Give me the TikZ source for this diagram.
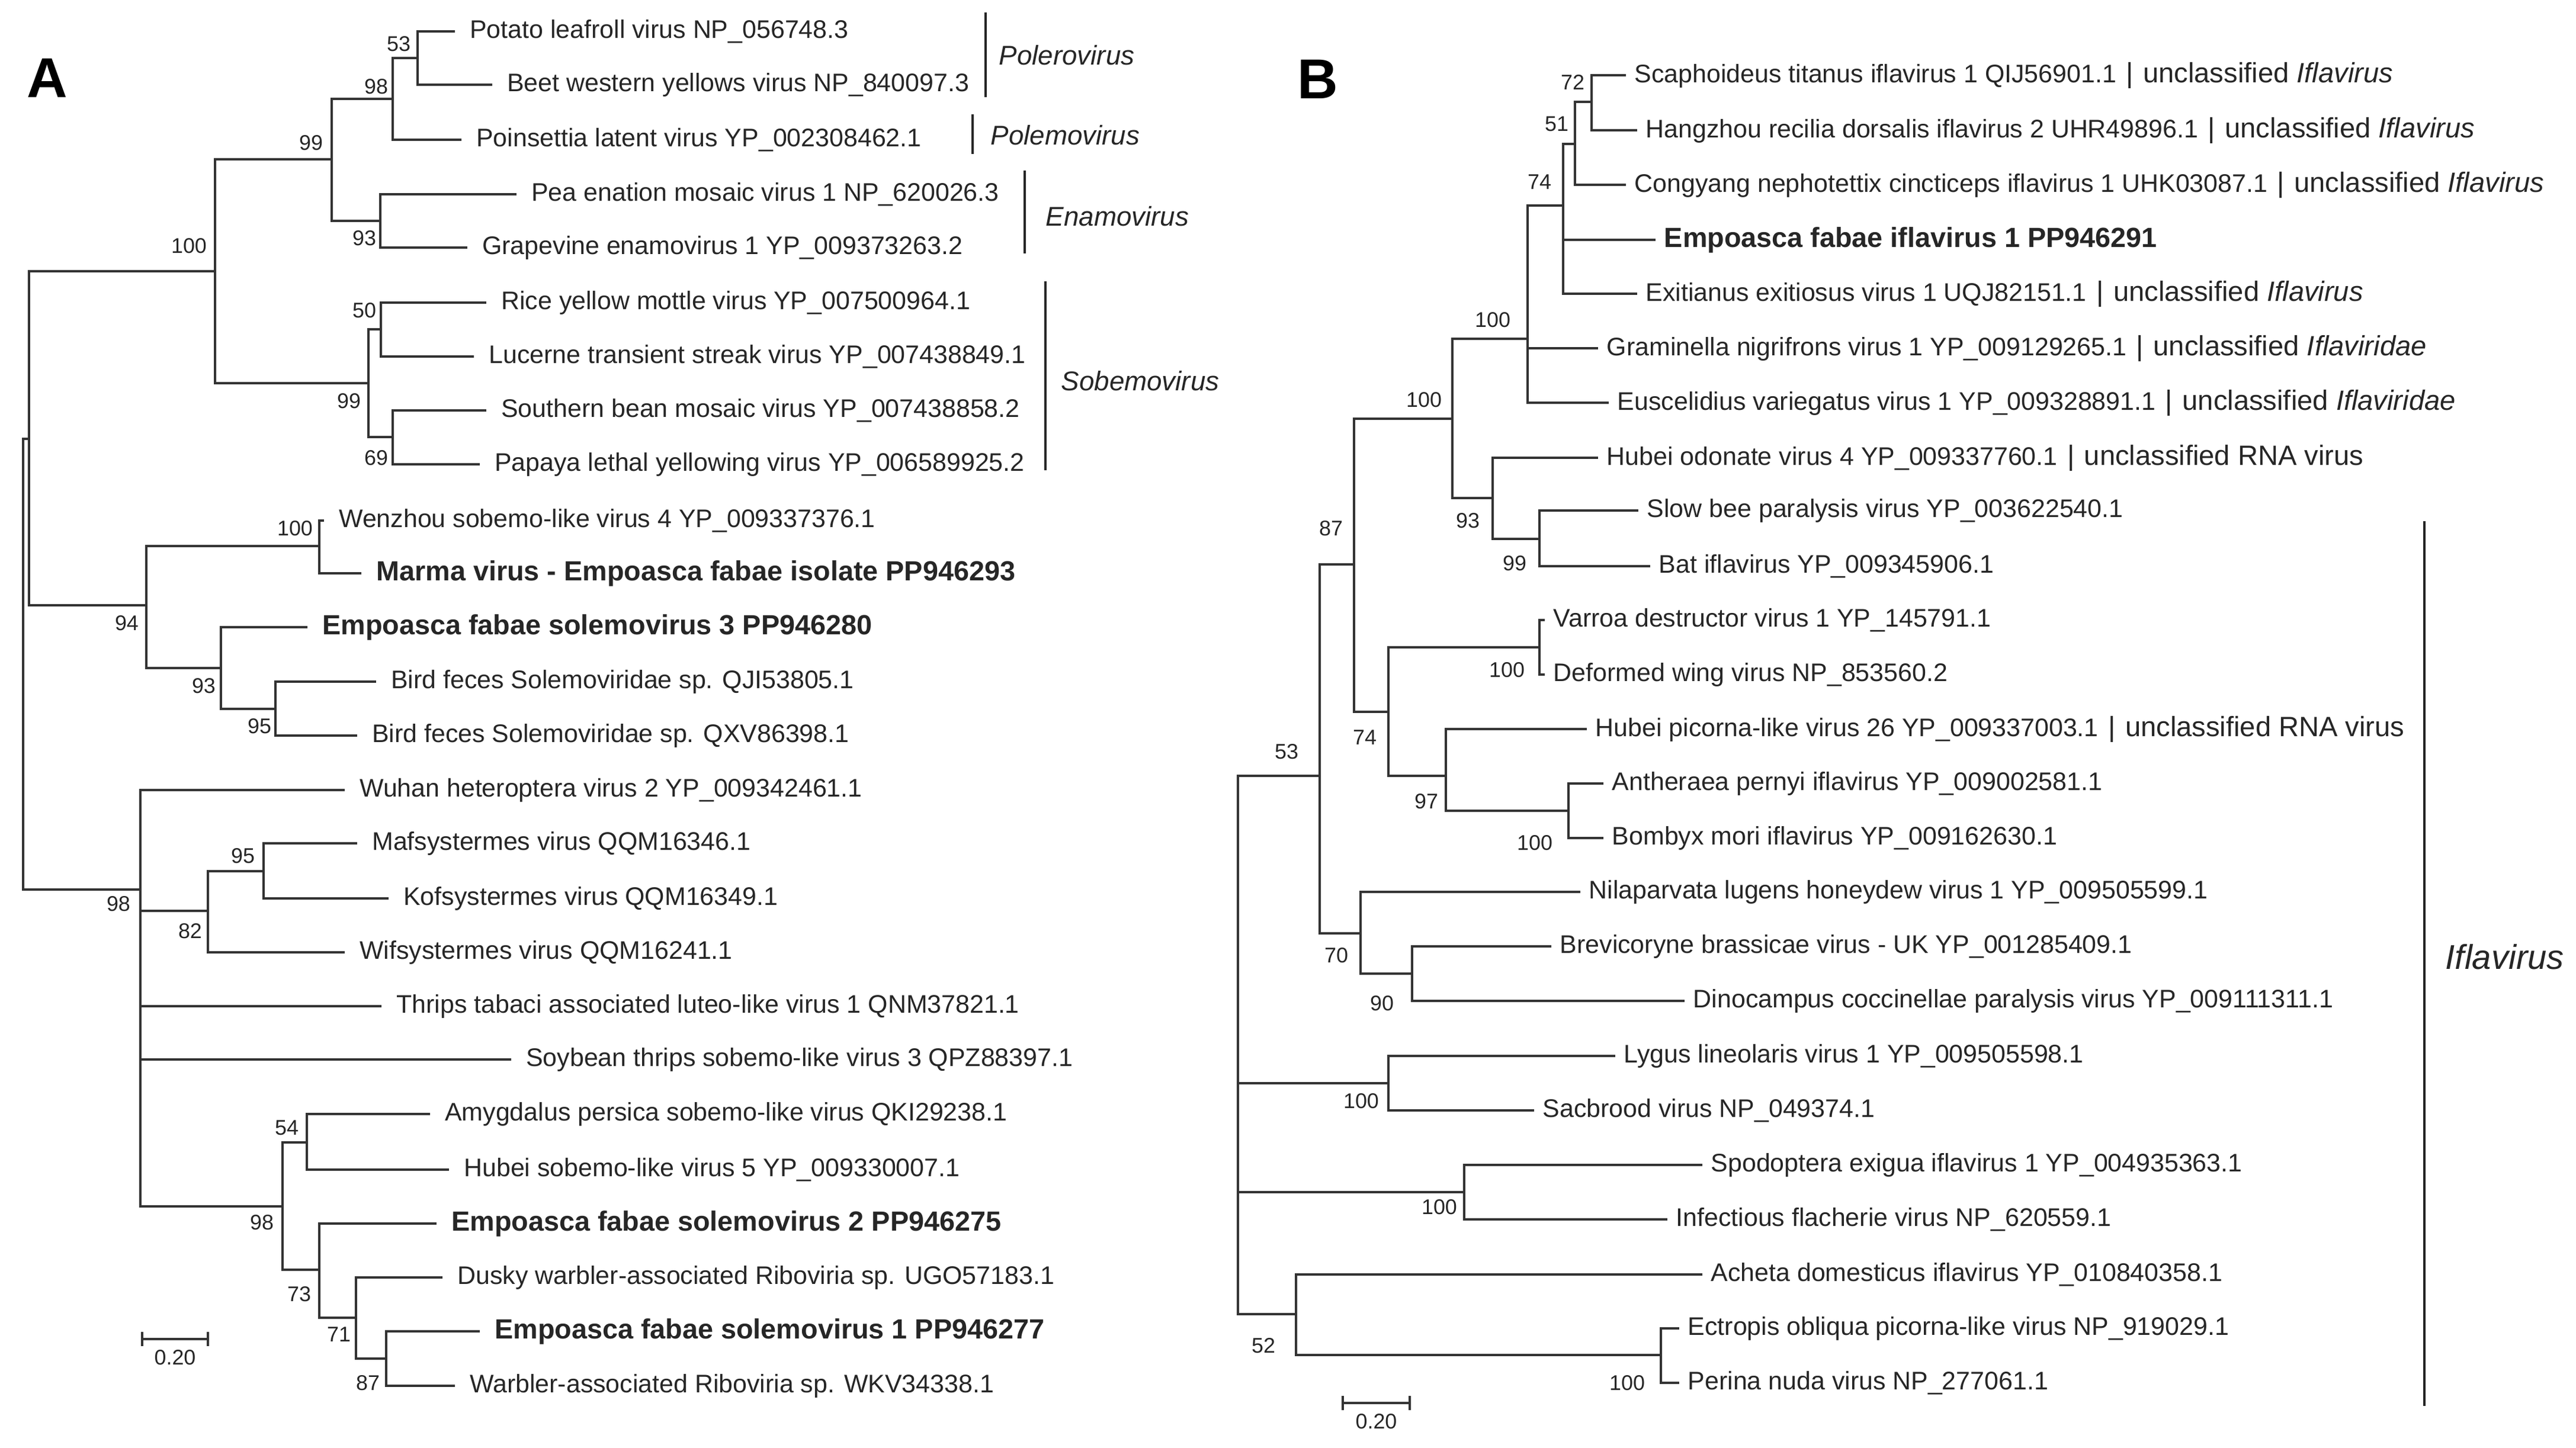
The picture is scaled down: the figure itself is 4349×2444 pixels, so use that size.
\documentclass[tikz,border=0pt]{standalone}
\usepackage{fontspec}
\setmainfont{Liberation Sans}
\usepackage{tikz}
\usetikzlibrary{positioning,arrows.meta}
\newcommand{\uncl}[1]{{\fontsize{13.4}{15}\selectfont\hspace{0.35em}|\hspace{0.35em}unclassified #1}}

\begin{document}
\begin{tikzpicture}[x=0.01cm,y=-0.01cm,
		br/.style={draw=black!80,line width=1.1pt},
		bar/.style={draw=black!85,line width=1.3pt},
		leaf/.style={anchor=west,inner xsep=7pt,inner ysep=1pt,text=black!85,font=\fontsize{12.2}{14}\selectfont},
		leafbf/.style={leaf,font=\fontsize{13.3}{15}\selectfont\bfseries},
		bs/.style={inner sep=0pt,text=black!85,font=\fontsize{10.2}{12}\selectfont},
		clade/.style={anchor=west,inner sep=0pt,text=black!85,font=\fontsize{13}{15}\selectfont\itshape},
		panel/.style={inner sep=0pt,font=\fontsize{27}{30}\selectfont\bfseries}]
		\useasboundingbox (0,0) rectangle (4349,2444);
		
		% panel A
		\node[panel] (pA) at (80,132) {A};
		
		\coordinate (aR) at (39,1121);
		\coordinate (a1) at (49,741);
		\coordinate (a2) at (363,458);
		\coordinate (a3) at (560,269);
		\coordinate (a4) at (663,167);
		\coordinate (a5) at (705,98);
		\coordinate (a6) at (642,373);
		\coordinate (a7) at (622,647);
		\coordinate (a8) at (643,556);
		\coordinate (a9) at (663,738);
		\coordinate (a10) at (247,1022);
		\coordinate (a11) at (539,922);
		\coordinate (a12) at (373,1128);
		\coordinate (a13) at (465,1197);
		\coordinate (a14) at (237,1502);
		\coordinate (a15) at (351,1538);
		\coordinate (a16) at (445,1471);
		\coordinate (a17) at (477,2037);
		\coordinate (a18) at (518,1929);
		\coordinate (a19) at (539,2144);
		\coordinate (a20) at (601,2225);
		\coordinate (a21) at (652,2294);
		
		\node[leaf] (potato) at (768,53) {Potato leafroll virus NP\_056748.3};
		\node[leaf] (beet) at (831,143) {Beet western yellows virus NP\_840097.3};
		\node[leaf] (poins) at (779,236) {Poinsettia latent virus YP\_002308462.1};
		\node[leaf] (pea) at (872,328) {Pea enation mosaic virus 1 NP\_620026.3};
		\node[leaf] (grape) at (789,418) {Grapevine enamovirus 1 YP\_009373263.2};
		\node[leaf] (rice) at (821,511) {Rice yellow mottle virus YP\_007500964.1};
		\node[leaf] (lucerne) at (800,602) {Lucerne transient streak virus YP\_007438849.1};
		\node[leaf] (sbean) at (821,693) {Southern bean mosaic virus YP\_007438858.2};
		\node[leaf] (papaya) at (810,784) {Papaya lethal yellowing virus YP\_006589925.2};
		\node[leaf] (wenzhou) at (547,879) {Wenzhou sobemo-like virus 4 YP\_009337376.1};
		\node[leafbf] (marma) at (610,968) {Marma virus - Empoasca fabae isolate PP946293};
		\node[leafbf] (efs3) at (519,1059) {Empoasca fabae solemovirus 3 PP946280};
		\node[leaf] (birdA) at (635,1151) {Bird feces Solemoviridae sp. QJI53805.1};
		\node[leaf] (birdB) at (603,1242) {Bird feces Solemoviridae sp. QXV86398.1};
		\node[leaf] (wuhan) at (582,1334) {Wuhan heteroptera virus 2 YP\_009342461.1};
		\node[leaf] (maf) at (603,1424) {Mafsystermes virus QQM16346.1};
		\node[leaf] (kof) at (656,1517) {Kofsystermes virus QQM16349.1};
		\node[leaf] (wif) at (582,1608) {Wifsystermes virus QQM16241.1};
		\node[leaf] (thrips) at (644,1699) {Thrips tabaci associated luteo-like virus 1 QNM37821.1};
		\node[leaf] (soybean) at (863,1789) {Soybean thrips sobemo-like virus 3 QPZ88397.1};
		\node[leaf] (amyg) at (726,1881) {Amygdalus persica sobemo-like virus QKI29238.1};
		\node[leaf] (hubeisob) at (758,1975) {Hubei sobemo-like virus 5 YP\_009330007.1};
		\node[leafbf] (efs2) at (737,2066) {Empoasca fabae solemovirus 2 PP946275};
		\node[leaf] (dusky) at (747,2157) {Dusky warbler-associated Riboviria sp. UGO57183.1};
		\node[leafbf] (efs1) at (810,2248) {Empoasca fabae solemovirus 1 PP946277};
		\node[leaf] (warbler) at (768,2340) {Warbler-associated Riboviria sp. WKV34338.1};
		
		\path[br] (aR) |- (a1) (aR) |- (a14);
		\path[br] (a1) |- (a2) (a1) |- (a10);
		\path[br] (a2) |- (a3) (a2) |- (a7);
		\path[br] (a3) |- (a4) (a3) |- (a6);
		\path[br] (a4) |- (a5) (a4) |- (poins.west);
		\path[br] (a5) |- (potato.west) (a5) |- (beet.west);
		\path[br] (a6) |- (pea.west) (a6) |- (grape.west);
		\path[br] (a7) |- (a8) (a7) |- (a9);
		\path[br] (a8) |- (rice.west) (a8) |- (lucerne.west);
		\path[br] (a9) |- (sbean.west) (a9) |- (papaya.west);
		\path[br] (a10) |- (a11) (a10) |- (a12);
		\path[br] (a11) |- (wenzhou.west) (a11) |- (marma.west);
		\path[br] (a12) |- (efs3.west) (a12) |- (a13);
		\path[br] (a13) |- (birdA.west) (a13) |- (birdB.west);
		\path[br] (a14) |- (wuhan.west) (a14) |- (a15) (a14) |- (thrips.west) (a14) |- (soybean.west) (a14) |- (a17);
		\path[br] (a15) |- (a16) (a15) |- (wif.west);
		\path[br] (a16) |- (maf.west) (a16) |- (kof.west);
		\path[br] (a17) |- (a18) (a17) |- (a19);
		\path[br] (a18) |- (amyg.west) (a18) |- (hubeisob.west);
		\path[br] (a19) |- (efs2.west) (a19) |- (a20);
		\path[br] (a20) |- (dusky.west) (a20) |- (a21);
		\path[br] (a21) |- (efs1.west) (a21) |- (warbler.west);
		
		\node[bs] at (673,74) {53};
		\node[bs] at (635,146) {98};
		\node[bs] at (525,241) {99};
		\node[bs] at (615,402) {93};
		\node[bs] at (319,415) {100};
		\node[bs] at (615,524) {50};
		\node[bs] at (589,677) {99};
		\node[bs] at (635,773) {69};
		\node[bs] at (498,892) {100};
		\node[bs] at (214,1052) {94};
		\node[bs] at (344,1158) {93};
		\node[bs] at (438,1226) {95};
		\node[bs] at (410,1445) {95};
		\node[bs] at (200,1526) {98};
		\node[bs] at (321,1572) {82};
		\node[bs] at (484,1904) {54};
		\node[bs] at (442,2064) {98};
		\node[bs] at (505,2185) {73};
		\node[bs] at (572,2253) {71};
		\node[bs] at (621,2335) {87};
		
		\coordinate (polA) at (1664,21);
		\coordinate (polB) at (1664,164);
		\coordinate (pomA) at (1642,193);
		\coordinate (pomB) at (1642,260);
		\coordinate (enaA) at (1730,288);
		\coordinate (enaB) at (1730,428);
		\coordinate (sobA) at (1765,475);
		\coordinate (sobB) at (1765,794);
		\draw[bar] (polA) -- (polB);
		\draw[bar] (pomA) -- (pomB);
		\draw[bar] (enaA) -- (enaB);
		\draw[bar] (sobA) -- (sobB);
		\node[clade] (polero) at (1686,93) {Polerovirus};
		\node[clade] (polemo) at (1672,228) {Polemovirus};
		\node[clade] (enamo) at (1765,365) {Enamovirus};
		\node[clade] (sobemo) at (1791,643) {Sobemovirus};
		
		\coordinate (sA1) at (238,2261);
		\coordinate (sA2) at (353,2261);
		\draw[br,{Bar[width=7pt]}-{Bar[width=7pt]}] (sA1) -- (sA2) coordinate[midway] (sAm);
		\node[bs,below=5pt of sAm] (scaleA) {0.20};
		
		% panel B
		\node[panel] (pB) at (2225,134) {B};
		
		\coordinate (bR) at (2090,1765);
		\coordinate (b1) at (2228,1310);
		\coordinate (b2) at (2286,953);
		\coordinate (b3) at (2452,707);
		\coordinate (b4) at (2579,572);
		\coordinate (b5) at (2639,347);
		\coordinate (b6) at (2659,243);
		\coordinate (b7) at (2687,172);
		\coordinate (b8) at (2520,841);
		\coordinate (b9) at (2599,910);
		\coordinate (b10) at (2344,1202);
		\coordinate (b11) at (2599,1093);
		\coordinate (b12) at (2441,1310);
		\coordinate (b13) at (2648,1369);
		\coordinate (b14) at (2297,1576);
		\coordinate (b15) at (2384,1644);
		\coordinate (b16) at (2344,1829);
		\coordinate (b17) at (2472,2013);
		\coordinate (b18) at (2188,2219);
		\coordinate (b19) at (2804,2288);
		
		\begin{scope}[leaf/.append style={inner xsep=4pt}]
		\node[leaf] (scaph) at (2745,127) {Scaphoideus titanus iflavirus 1 QIJ56901.1\uncl{\textit{Iflavirus}}};
		\node[leaf] (hangzhou) at (2764,220) {Hangzhou recilia dorsalis iflavirus 2 UHR49896.1\uncl{\textit{Iflavirus}}};
		\node[leaf] (congyang) at (2745,312) {Congyang nephotettix cincticeps iflavirus 1 UHK03087.1\uncl{\textit{Iflavirus}}};
		\node[leafbf] (efi) at (2795,405) {Empoasca fabae iflavirus 1 PP946291};
		\node[leaf] (exit) at (2764,496) {Exitianus exitiosus virus 1 UQJ82151.1\uncl{\textit{Iflavirus}}};
		\node[leaf] (gramin) at (2698,588) {Graminella nigrifrons virus 1 YP\_009129265.1\uncl{\textit{Iflaviridae}}};
		\node[leaf] (euscel) at (2716,680) {Euscelidius variegatus virus 1 YP\_009328891.1\uncl{\textit{Iflaviridae}}};
		\node[leaf] (hubeiod) at (2698,773) {Hubei odonate virus 4 YP\_009337760.1\uncl{RNA virus}};
		\node[leaf] (slowbee) at (2766,862) {Slow bee paralysis virus YP\_003622540.1};
		\node[leaf] (bat) at (2786,956) {Bat iflavirus YP\_009345906.1};
		\node[leaf] (varroa) at (2608,1047) {Varroa destructor virus 1 YP\_145791.1};
		\node[leaf] (dwv) at (2608,1139) {Deformed wing virus NP\_853560.2};
		\node[leaf] (hubeipic) at (2679,1231) {Hubei picorna-like virus 26 YP\_009337003.1\uncl{RNA virus}};
		\node[leaf] (anth) at (2707,1323) {Antheraea pernyi iflavirus YP\_009002581.1};
		\node[leaf] (bombyx) at (2707,1415) {Bombyx mori iflavirus YP\_009162630.1};
		\node[leaf] (nilap) at (2668,1506) {Nilaparvata lugens honeydew virus 1 YP\_009505599.1};
		\node[leaf] (brevi) at (2619,1598) {Brevicoryne brassicae virus - UK YP\_001285409.1};
		\node[leaf] (dino) at (2844,1690) {Dinocampus coccinellae paralysis virus YP\_009111311.1};
		\node[leaf] (lygus) at (2727,1783) {Lygus lineolaris virus 1 YP\_009505598.1};
		\node[leaf] (sacb) at (2590,1875) {Sacbrood virus NP\_049374.1};
		\node[leaf] (spod) at (2874,1967) {Spodoptera exigua iflavirus 1 YP\_004935363.1};
		\node[leaf] (ifv) at (2815,2059) {Infectious flacherie virus NP\_620559.1};
		\node[leaf] (acheta) at (2874,2152) {Acheta domesticus iflavirus YP\_010840358.1};
		\node[leaf] (ectropis) at (2835,2243) {Ectropis obliqua picorna-like virus NP\_919029.1};
		\node[leaf] (perina) at (2835,2335) {Perina nuda virus NP\_277061.1};
		\end{scope}
		
		\path[br] (bR) |- (b1) (bR) |- (b16) (bR) |- (b17) (bR) |- (b18);
		\path[br] (b1) |- (b2) (b1) |- (b14);
		\path[br] (b2) |- (b3) (b2) |- (b10);
		\path[br] (b3) |- (b4) (b3) |- (b8);
		\path[br] (b4) |- (b5) (b4) |- (gramin.west) (b4) |- (euscel.west);
		\path[br] (b5) |- (b6) (b5) |- (efi.west) (b5) |- (exit.west);
		\path[br] (b6) |- (b7) (b6) |- (congyang.west);
		\path[br] (b7) |- (scaph.west) (b7) |- (hangzhou.west);
		\path[br] (b8) |- (hubeiod.west) (b8) |- (b9);
		\path[br] (b9) |- (slowbee.west) (b9) |- (bat.west);
		\path[br] (b10) |- (b11) (b10) |- (b12);
		\path[br] (b11) |- (varroa.west) (b11) |- (dwv.west);
		\path[br] (b12) |- (hubeipic.west) (b12) |- (b13);
		\path[br] (b13) |- (anth.west) (b13) |- (bombyx.west);
		\path[br] (b14) |- (nilap.west) (b14) |- (b15);
		\path[br] (b15) |- (brevi.west) (b15) |- (dino.west);
		\path[br] (b16) |- (lygus.west) (b16) |- (sacb.west);
		\path[br] (b17) |- (spod.west) (b17) |- (ifv.west);
		\path[br] (b18) |- (acheta.west) (b18) |- (b19);
		\path[br] (b19) |- (ectropis.west) (b19) |- (perina.west);
		
		\node[bs] at (2655,139) {72};
		\node[bs] at (2628,209) {51};
		\node[bs] at (2599,307) {74};
		\node[bs] at (2520,540) {100};
		\node[bs] at (2404,675) {100};
		\node[bs] at (2247,892) {87};
		\node[bs] at (2478,879) {93};
		\node[bs] at (2557,951) {99};
		\node[bs] at (2544,1131) {100};
		\node[bs] at (2304,1245) {74};
		\node[bs] at (2172,1269) {53};
		\node[bs] at (2408,1353) {97};
		\node[bs] at (2591,1423) {100};
		\node[bs] at (2256,1613) {70};
		\node[bs] at (2333,1694) {90};
		\node[bs] at (2298,1859) {100};
		\node[bs] at (2430,2038) {100};
		\node[bs] at (2133,2272) {52};
		\node[bs] at (2747,2335) {100};
		
		\coordinate (iflA) at (4093,880);
		\coordinate (iflB) at (4093,2374);
		\draw[bar] (iflA) -- (iflB);
		\node[clade,font=\fontsize{16.5}{19}\selectfont\itshape] (iflav) at (4128,1616) {Iflavirus};
		
		\coordinate (sB1) at (2265,2369);
		\coordinate (sB2) at (2382,2369);
		\draw[br,{Bar[width=7pt]}-{Bar[width=7pt]}] (sB1) -- (sB2) coordinate[midway] (sBm);
		\node[bs,below=5pt of sBm] (scaleB) {0.20};
	\end{tikzpicture}
\end{document}
